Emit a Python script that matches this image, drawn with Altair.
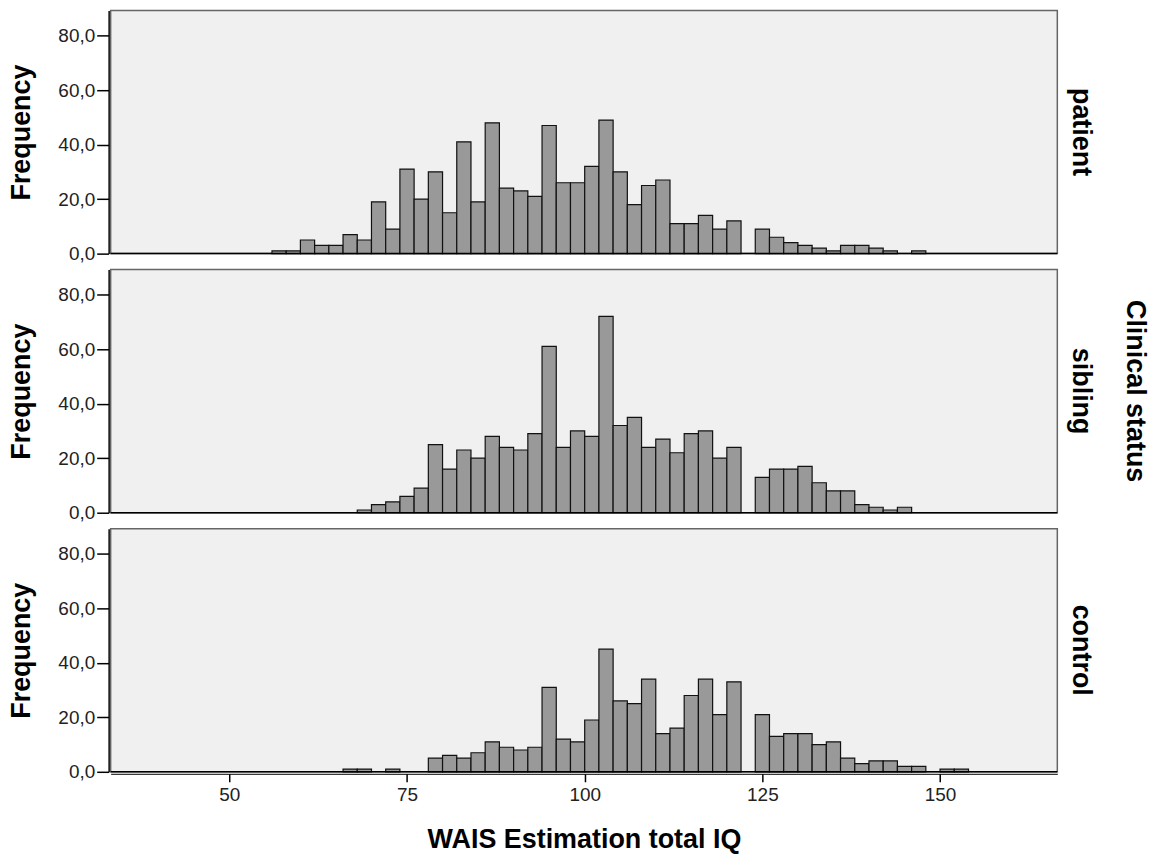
import altair as alt
import pandas as pd

groups = ["patient", "sibling", "control"]
bin_width = 2

patient_start = 56
patient_counts = [1, 1, 5, 3, 3, 7, 5, 19, 9, 31,
                  20, 30, 15, 41, 19, 48, 24, 23, 21, 47,
                  26, 26, 32, 49, 30, 18, 25, 27, 11, 11,
                  14, 9, 12, 0, 9, 6, 4, 3, 2, 1,
                  3, 3, 2, 1, 0, 1]

sibling_start = 68
sibling_counts = [1, 3, 4, 6, 9, 25, 16, 23, 20, 28,
                  24, 23, 29, 61, 24, 30, 28, 72, 32, 35,
                  24, 27, 22, 29, 30, 20, 24, 0, 13, 16,
                  16, 17, 11, 8, 8, 3, 2, 1, 2]

control_start = 66
control_counts = [1, 1, 0, 1, 0, 0, 5, 6, 5, 7,
                  11, 9, 8, 9, 31, 12, 11, 19, 45, 26,
                  25, 34, 14, 16, 28, 34, 21, 33, 0, 21,
                  13, 14, 14, 10, 11, 5, 3, 4, 4, 2,
                  2, 0, 1, 1]

x_ticks = [50, 75, 100, 125, 150]
y_ticks = [0, 20, 40, 60, 80]

rows = []
for g, s, counts in [("patient", patient_start, patient_counts),
                     ("sibling", sibling_start, sibling_counts),
                     ("control", control_start, control_counts)]:
    for i, c in enumerate(counts):
        if c > 0:
            rows.append({"group": g, "start": s + i * bin_width,
                         "end": s + (i + 1) * bin_width, "count": c})
df = pd.DataFrame(rows)

FONT = "Liberation Sans"
W, H = 950, 244

bars = alt.Chart().mark_bar(
    fill="#999999", stroke="#111111", strokeWidth=1.2
).encode(
    x=alt.X("start:Q",
            scale=alt.Scale(domain=[33.3, 166.5], nice=False, zero=False),
            axis=alt.Axis(values=x_ticks, format="d", tickSize=8,
                          labelPadding=4, titlePadding=22, domainWidth=1,
                          title="WAIS Estimation total IQ")),
    x2="end:Q",
    y=alt.Y("count:Q",
            scale=alt.Scale(domain=[0, 89.2], nice=False),
            axis=alt.Axis(values=y_ticks, tickSize=12, labelPadding=2,
                          titlePadding=22, title="Frequency",
                          labelExpr="replace(format(datum.value, '.1f'), '.', ',')")),
    y2=alt.datum(0),
)

base_rule = alt.Chart().transform_aggregate(
    n="count()", groupby=["group"]
).mark_rule(color="black", strokeWidth=1.5).encode(
    y=alt.datum(0), x=alt.value(0), x2=alt.value(W)
)

chart = alt.layer(bars, base_rule, data=df).properties(
    width=W, height=H
).facet(
    row=alt.Row("group:N", sort=groups, title="Clinical status",
                header=alt.Header(labelOrient="right", labelAngle=90,
                                  labelFont=FONT, labelFontSize=27,
                                  labelFontWeight="bold", labelColor="black",
                                  labelPadding=8,
                                  titleOrient="right", titleAngle=90,
                                  titleFont=FONT, titleFontSize=27,
                                  titleFontWeight="bold", titleColor="black",
                                  titlePadding=16)),
    spacing=13,
).configure(
    padding=0, background="white"
).configure_view(
    fill="#f0f0f0", stroke="#666666", strokeWidth=1.5
).configure_axis(
    grid=False, domainColor="black", domainWidth=1.5, tickColor="black",
    tickWidth=1.5, labelFont=FONT, labelFontSize=19, labelColor="#222222",
    titleFont=FONT, titleFontSize=27, titleFontWeight="bold", titleColor="black"
)

chart.save("out.html", embed_options={"renderer": "svg", "actions": False})
